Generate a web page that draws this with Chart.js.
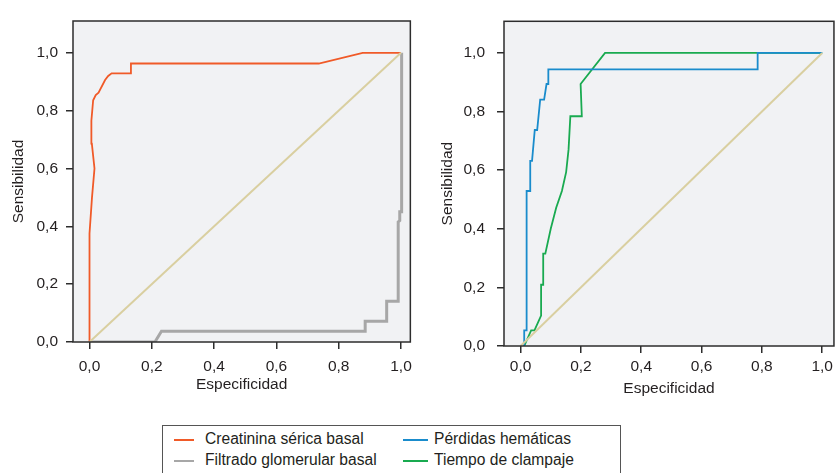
<!DOCTYPE html>
<html>
<head>
<meta charset="utf-8">
<script src="https://cdn.jsdelivr.net/npm/chart.js@4/dist/chart.umd.min.js"></script>
<style>
  html, body { margin:0; padding:0; background:#fff; }
  body { width:837px; height:473px; position:relative; overflow:hidden; font-family:"Liberation Sans", Arial, sans-serif; color:#231f20; }
  #c1 { position:absolute; left:0; top:0; }
  #c2 { position:absolute; left:420px; top:0; }
  #legend { position:absolute; left:162px; top:425px; width:459px; height:60px; border:1px solid #555; box-sizing:border-box; }
  .item { position:absolute; font-size:15.6px; line-height:18px; white-space:nowrap; }
  .sw { position:absolute; height:2px; }
</style>
</head>
<body>
<canvas id="c1" width="420" height="400"></canvas>
<canvas id="c2" width="417" height="400"></canvas>
<div id="legend"></div>
<script>
// ---- Data ----
const tickValues = [0, 0.2, 0.4, 0.6, 0.8, 1.0];
const xTitle = "Especificidad";
const yTitle = "Sensibilidad";

const refX = [0, 1];
const refY = [0, 1];

const creatininaLabel = "Creatinina sérica basal";
const creatininaX = [0, 0, 0.008, 0.016, 0.0075, 0.006, 0.0117, 0.02, 0.029, 0.05, 0.06, 0.071, 0.133, 0.133, 0.736, 0.877, 1.0];
const creatininaY = [0, 0.375, 0.5, 0.6, 0.686, 0.765, 0.836, 0.854, 0.862, 0.906, 0.92, 0.929, 0.929, 0.963, 0.963, 1.0, 1.0];

const filtradoLabel = "Filtrado glomerular basal";
const filtradoX = [0, 0.21, 0.231, 0.885, 0.885, 0.954, 0.954, 0.991, 0.991, 0.996, 0.996, 1.002, 1.002];
const filtradoY = [0, 0, 0.037, 0.037, 0.072, 0.072, 0.141, 0.141, 0.415, 0.42, 0.45, 0.45, 1.0];

const perdidasLabel = "Pérdidas hemáticas";
const perdidasX = [0.012, 0.012, 0.02, 0.02, 0.032, 0.032, 0.038, 0.047, 0.055, 0.065, 0.078, 0.086, 0.092, 0.092, 0.786, 0.786, 1.0];
const perdidasY = [0, 0.053, 0.053, 0.529, 0.529, 0.632, 0.632, 0.737, 0.737, 0.841, 0.841, 0.894, 0.894, 0.944, 0.944, 1.0, 1.0];

const clampajeLabel = "Tiempo de clampaje";
const clampajeX = [0.012, 0.035, 0.046, 0.068, 0.068, 0.075, 0.075, 0.082, 0.1, 0.118, 0.137, 0.151, 0.159, 0.165, 0.203, 0.199, 0.28, 1.0];
const clampajeY = [0, 0.053, 0.053, 0.104, 0.209, 0.209, 0.315, 0.315, 0.4, 0.472, 0.529, 0.593, 0.67, 0.784, 0.784, 0.894, 1.0, 1.0];

// ---- Styles ----
const COLORS = {
  creatinina: "#f05a28",
  filtrado: "#a7a7a7",
  perdidas: "#1a8ccc",
  clampaje: "#19aa50",
  ref: "#d9cfa0"
};
const TEXT = "#231f20";
const FONT = { family: "'Liberation Sans', Arial, sans-serif", size: 15.5 };

function pts(xs, ys) { return xs.map((x, i) => ({ x: x, y: ys[i] })); }
function fmt(v) { return v.toFixed(1).replace('.', ','); }

function ds(label, xs, ys, color, width) {
  return { label: label, data: pts(xs, ys), showLine: true, borderColor: color, backgroundColor: color,
           borderWidth: width, pointRadius: 0, tension: 0, fill: false };
}

const boxPlugin = {
  id: 'box',
  beforeDatasetsDraw(chart) {
    const a = chart.chartArea, c = chart.ctx;
    c.save(); c.fillStyle = "#f1f2f4"; c.fillRect(a.left, a.top, a.right - a.left, a.bottom - a.top); c.restore();
  },
  afterDatasetsDraw(chart) {
    const a = chart.chartArea, c = chart.ctx;
    c.save(); c.strokeStyle = "#2d2d2d"; c.lineWidth = 1.5;
    c.strokeRect(a.left, a.top, a.right - a.left, a.bottom - a.top); c.restore();
  }
};

function makeChart(id, datasets, g) {
  return new Chart(document.getElementById(id), {
    type: 'scatter',
    data: { datasets: datasets },
    plugins: [boxPlugin],
    options: {
      responsive: false, animation: false, events: [],
      layout: { padding: { top: g.top, right: g.right, left: 0, bottom: 0 } },
      plugins: { legend: { display: false }, tooltip: { enabled: false } },
      scales: {
        x: {
          type: 'linear', min: g.xmin, max: g.xmax,
          afterBuildTicks: s => { s.ticks = tickValues.map(v => ({ value: v })); },
          afterFit: s => { s.height = g.xh; },
          border: { display: false },
          grid: { drawOnChartArea: false, drawTicks: true, tickLength: 7, tickColor: "#2d2d2d", lineWidth: 1.5 },
          ticks: { color: TEXT, font: FONT, padding: g.xpad, maxRotation: 0, callback: v => fmt(v) },
          title: { display: true, text: xTitle, color: TEXT, font: FONT, padding: { top: 0, bottom: g.xtpad } }
        },
        y: {
          type: 'linear', min: 0, max: g.ymax,
          afterBuildTicks: s => { s.ticks = tickValues.map(v => ({ value: v })); },
          afterFit: s => { s.width = g.yw; },
          border: { display: false },
          grid: { drawOnChartArea: false, drawTicks: true, tickLength: 7, tickColor: "#2d2d2d", lineWidth: 1.5 },
          ticks: { color: TEXT, font: FONT, padding: g.ypad, callback: v => fmt(v) },
          title: { display: true, text: yTitle, color: TEXT, font: FONT, padding: { top: g.ytpad, bottom: 0 } }
        }
      }
    }
  });
}

makeChart('c1', [
  ds('ref', refX, refY, COLORS.ref, 2),
  ds(creatininaLabel, creatininaX, creatininaY, COLORS.creatinina, 1.8),
  ds(filtradoLabel, filtradoX, filtradoY, COLORS.filtrado, 3)
], { top: 21, right: 8, xmin: -0.053, xmax: 1.03, ymax: 1.11, xh: 58, yw: 73, xpad: 8, ypad: 8, xtpad: 6, ytpad: 9 });

makeChart('c2', [
  ds('ref', refX, refY, COLORS.ref, 2),
  ds(perdidasLabel, perdidasX, perdidasY, COLORS.perdidas, 1.8),
  ds(clampajeLabel, clampajeX, clampajeY, COLORS.clampaje, 1.8)
], { top: 11, right: 1, xmin: -0.055, xmax: 1.039, ymax: 1.108, xh: 54, yw: 84, xpad: 4, ypad: 12, xtpad: 2, ytpad: 18 });

// ---- Legend ----
const legendItems = [
  { label: creatininaLabel, color: COLORS.creatinina, lx: 11, lw: 20, tx: 42, ty: 4 },
  { label: filtradoLabel, color: COLORS.filtrado, lx: 11, lw: 20, tx: 42, ty: 25 },
  { label: perdidasLabel, color: COLORS.perdidas, lx: 240, lw: 25, tx: 271, ty: 4 },
  { label: clampajeLabel, color: COLORS.clampaje, lx: 240, lw: 25, tx: 271, ty: 25 }
];
const leg = document.getElementById('legend');
legendItems.forEach(it => {
  const sw = document.createElement('div');
  sw.className = 'sw';
  sw.style.left = it.lx + 'px'; sw.style.width = it.lw + 'px'; sw.style.top = (it.ty + 9) + 'px';
  sw.style.backgroundColor = it.color;
  leg.appendChild(sw);
  const t = document.createElement('div');
  t.className = 'item';
  t.style.left = it.tx + 'px'; t.style.top = it.ty + 'px';
  t.textContent = it.label;
  leg.appendChild(t);
});
</script>
</body>
</html>
